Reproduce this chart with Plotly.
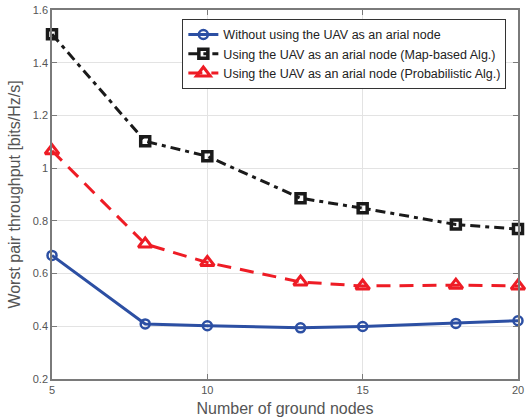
import plotly.graph_objects as go

x_nodes = [5, 8, 10, 13, 15, 18, 20]
without_uav = [0.669, 0.409, 0.402, 0.394, 0.399, 0.411, 0.421]
map_based = [1.508, 1.102, 1.045, 0.886, 0.848, 0.786, 0.769]
probabilistic = [1.066, 0.712, 0.642, 0.568, 0.553, 0.556, 0.553]

names = [
    "Without using the UAV as an arial node",
    "Using the UAV as an arial node (Map-based Alg.)",
    "Using the UAV as an arial node (Probabilistic Alg.)",
]

fig = go.Figure()
fig.add_trace(go.Scatter(
    x=x_nodes, y=without_uav, name=names[0], mode="lines+markers", cliponaxis=False,
    line=dict(color="#2c4fa3", width=3, dash="solid"),
    marker=dict(symbol="circle-open", size=9, color="#2c4fa3", line=dict(width=2.5, color="#2c4fa3")),
))
fig.add_trace(go.Scatter(
    x=x_nodes, y=map_based, name=names[1], mode="lines+markers", cliponaxis=False,
    line=dict(color="#1a1a1a", width=3, dash="10px,5px,4px,5px"),
    marker=dict(symbol="square-open", size=9, color="#1a1a1a", line=dict(width=3.5, color="#1a1a1a")),
))
fig.add_trace(go.Scatter(
    x=x_nodes, y=probabilistic, name=names[2], mode="lines+markers", cliponaxis=False,
    line=dict(color="#ee1c25", width=3, dash="14px,9px"),
    marker=dict(symbol="triangle-up-open", size=12, color="#ee1c25", line=dict(width=3, color="#ee1c25")),
))

axis_common = dict(
    showgrid=True, gridcolor="#e3e3e3", gridwidth=1,
    showline=True, linecolor="#7a7a7a", linewidth=1.5, mirror="ticks",
    ticks="inside", ticklen=5, tickcolor="#7a7a7a",
    tickfont=dict(family="Liberation Sans, Arial", size=11, color="#555555"),
    zeroline=False, automargin=False,
)

fig.update_layout(
    width=526, height=420,
    margin=dict(l=52, r=8, t=10, b=41),
    paper_bgcolor="white", plot_bgcolor="white",
    font=dict(family="Liberation Sans, Arial", color="#444444"),
    xaxis=dict(range=[5, 20], tickvals=[5, 10, 15, 20],
               title=dict(text="Number of ground nodes", font=dict(size=16, color="#555555"), standoff=8),
               **axis_common),
    yaxis=dict(range=[0.2, 1.6], tickvals=[0.2, 0.4, 0.6, 0.8, 1.0, 1.2, 1.4, 1.6],
               ticktext=["0.2", "0.4", "0.6", "0.8", "1", "1.2", "1.4", "1.6"],
               title=dict(text="Worst pair throughput [bits/Hz/s]", font=dict(size=16, color="#555555"), standoff=8),
               **axis_common),
    legend=dict(x=0.975, y=0.976, xanchor="right", yanchor="top",
                bgcolor="white", bordercolor="#333333", borderwidth=1,
                font=dict(family="Liberation Sans, Arial", size=12.5, color="#222222"),
                itemwidth=30, tracegroupgap=0),
    showlegend=True,
)

fig.write_html("out.html", config={"displayModeBar": False},
               post_script="document.body.style.margin='0';document.body.style.overflow='hidden';")
